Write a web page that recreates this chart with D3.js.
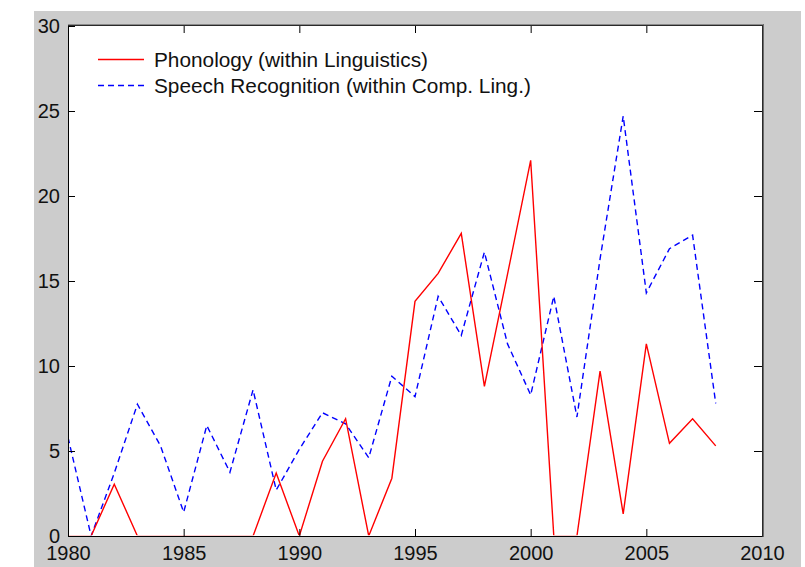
<!DOCTYPE html>
<html>
<head>
<meta charset="utf-8">
<script src="https://cdn.jsdelivr.net/npm/d3@7"></script>
<style>
  html, body { margin: 0; padding: 0; background: #ffffff; }
  svg { display: block; }
  text { font-family: "Liberation Sans", Arial, sans-serif; fill: #111; }
</style>
</head>
<body>
<svg id="chart" width="805" height="567"></svg>
<script>
// ---- data ----
const years = [1980,1981,1982,1983,1984,1985,1986,1987,1988,1989,1990,1991,1992,1993,1994,
               1995,1996,1997,1998,1999,2000,2001,2002,2003,2004,2005,2006,2007,2008];
const phonology = [0,0,3.05,0,0,0,0,0,0,3.7,0,4.4,6.9,0,3.4,
                   13.8,15.45,17.8,8.8,15.4,22.1,0,0,9.7,1.3,11.3,5.45,6.9,5.3];
const speech = [5.8,0,3.7,7.75,5.3,1.4,6.5,3.75,8.6,2.7,5.1,7.25,6.6,4.6,9.4,
                8.2,14.1,11.8,16.7,11.3,8.3,14.1,7.0,16.3,24.7,14.3,16.9,17.7,7.8];
const seriesNames = ["Phonology (within Linguistics)", "Speech Recognition (within Comp. Ling.)"];
const xTicks = [1980,1985,1990,1995,2000,2005,2010];
const yTicks = [0,5,10,15,20,25,30];

// ---- layout ----
const svg = d3.select("#chart");
const L = 68, R = 762, T = 26, B = 536;
const x = d3.scaleLinear().domain([1980, 2010]).range([L, R]);
const y = d3.scaleLinear().domain([0, 30]).range([B, T]);

// figure background
svg.append("rect").attr("x", 34).attr("y", 11).attr("width", 767).attr("height", 556).attr("fill", "#cccccc");
// axes background
svg.append("rect").attr("x", L).attr("y", T).attr("width", R - L).attr("height", B - T).attr("fill", "#ffffff");

svg.append("defs").append("clipPath").attr("id", "plotclip")
  .append("rect").attr("x", L + 1).attr("y", T).attr("width", R - L - 1).attr("height", B - T - 0.8);

// lines
const lineGen = vals => d3.line().x((d, i) => x(years[i])).y(d => y(d))(vals);
const plot = svg.append("g").attr("clip-path", "url(#plotclip)");
plot.append("path").attr("d", lineGen(speech)).attr("fill", "none")
  .attr("stroke", "#0000ff").attr("stroke-width", 1.4).attr("stroke-dasharray", "6,4");
plot.append("path").attr("d", lineGen(phonology)).attr("fill", "none")
  .attr("stroke", "#ff0000").attr("stroke-width", 1.4);

// axes
const fontSize = "20px";
const gx = svg.append("g").attr("transform", `translate(0,${B})`)
  .call(d3.axisBottom(x).tickValues(xTicks).tickFormat(d3.format("d")).tickSizeInner(-7).tickSizeOuter(0).tickPadding(10));
const gy = svg.append("g").attr("transform", `translate(${L},0)`)
  .call(d3.axisLeft(y).tickValues(yTicks).tickFormat(d3.format("d")).tickSizeInner(-7).tickSizeOuter(0).tickPadding(8));
const gxt = svg.append("g").attr("transform", `translate(0,${T})`)
  .call(d3.axisTop(x).tickValues(xTicks.slice(1, -1)).tickFormat("").tickSizeInner(-7).tickSizeOuter(0));
const gyr = svg.append("g").attr("transform", `translate(${R},0)`)
  .call(d3.axisRight(y).tickValues(yTicks.slice(1, -1)).tickFormat("").tickSizeInner(-8).tickSizeOuter(0));
[gx, gy, gxt, gyr].forEach(g => {
  g.selectAll(".domain").remove();
  g.selectAll("line").attr("stroke", "#000").attr("stroke-width", 1);
  g.selectAll("text").style("font-size", fontSize).attr("fill", "#111")
   .style("font-family", '"Liberation Sans", Arial, sans-serif');
});
gxt.selectAll("text").remove();
gyr.selectAll("text").remove();
gy.selectAll("text").attr("dy", "0.3em");

// frame
svg.append("line").attr("x1", L + 0.5).attr("x2", L + 0.5).attr("y1", T).attr("y2", B + 1).attr("stroke", "#000");
svg.append("line").attr("x1", L).attr("x2", R + 1).attr("y1", B + 0.5).attr("y2", B + 0.5).attr("stroke", "#000");
svg.append("line").attr("x1", L).attr("x2", R + 1).attr("y1", T - 0.5).attr("y2", T - 0.5).attr("stroke", "#2a2a2a").attr("stroke-width", 1);
svg.append("line").attr("x1", L).attr("x2", R + 2).attr("y1", T - 1.5).attr("y2", T - 1.5).attr("stroke", "#8a8a8a").attr("stroke-width", 1);
svg.append("line").attr("x1", R + 0.5).attr("x2", R + 0.5).attr("y1", T - 1).attr("y2", B + 1).attr("stroke", "#2a2a2a").attr("stroke-width", 1);
svg.append("line").attr("x1", R + 1.5).attr("x2", R + 1.5).attr("y1", T - 2).attr("y2", B + 1).attr("stroke", "#6a6a6a").attr("stroke-width", 1);

// legend
const legend = svg.append("g");
const legendItems = [
  { name: seriesNames[0], color: "#ff0000", dash: null, yy: 59.5 },
  { name: seriesNames[1], color: "#0000ff", dash: "6,4", yy: 85.5 }
];
legendItems.forEach(it => {
  legend.append("line").attr("x1", 98).attr("x2", 144).attr("y1", it.yy).attr("y2", it.yy)
    .attr("stroke", it.color).attr("stroke-width", 1.4).attr("stroke-dasharray", it.dash);
  legend.append("text").attr("x", 154).attr("y", it.yy).attr("dy", "0.36em")
    .style("font-size", "20.8px").text(it.name);
});
</script>
</body>
</html>
